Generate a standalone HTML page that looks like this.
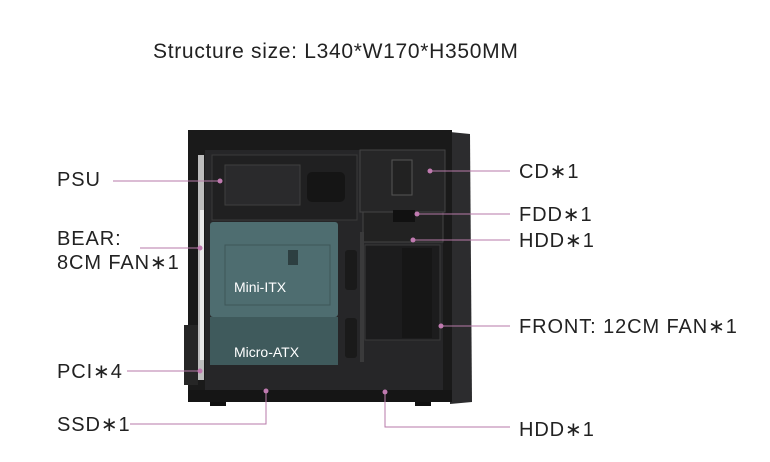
<!DOCTYPE html>
<html><head><meta charset="utf-8"><style>
html,body{margin:0;padding:0;background:#fff;}
body{width:770px;height:462px;overflow:hidden;position:relative;font-family:"Liberation Sans",sans-serif;}
.t{position:absolute;font-size:20px;letter-spacing:0.9px;color:#222;white-space:nowrap;line-height:1;}
svg{position:absolute;left:0;top:0;}
</style></head><body>
<svg width="770" height="462" viewBox="0 0 770 462">
 <rect x="210" y="398" width="16" height="8" fill="#111"/>
 <rect x="415" y="398" width="16" height="8" fill="#111"/>
 <path d="M450 132 L470 134 L472 402 L450 404 Z" fill="#2c2c2e"/>
 <rect x="188" y="130" width="264" height="272" fill="#1a1a1a"/>
 <rect x="205" y="150" width="238" height="240" fill="#262628"/>
 <rect x="198" y="155" width="6" height="225" fill="#bdbdbd"/>
 <rect x="200" y="210" width="4" height="150" fill="#eaeaea"/>
 <rect x="212" y="155" width="145" height="65" fill="#202021" stroke="#3a3a3a"/>
 <rect x="225" y="165" width="75" height="40" fill="#2a2a2c" stroke="#3f3f3f"/>
 <rect x="307" y="172" width="38" height="30" rx="5" fill="#151515"/>
 <rect x="360" y="150" width="85" height="62" fill="#262627" stroke="#444"/>
 <rect x="392" y="160" width="20" height="35" fill="#222" stroke="#555"/>
 <rect x="363" y="212" width="80" height="30" fill="#222" stroke="#444"/>
 <rect x="393" y="210" width="22" height="12" fill="#111"/>
 <rect x="365" y="245" width="75" height="95" fill="#1c1c1d" stroke="#3a3a3a"/>
 <rect x="402" y="248" width="30" height="90" fill="#161616"/>
 <rect x="345" y="250" width="12" height="40" rx="3" fill="#1a1a1a"/>
 <rect x="345" y="318" width="12" height="40" rx="3" fill="#1a1a1a"/>
 <rect x="360" y="232" width="4" height="130" fill="#3a3a3b"/>
 <rect x="210" y="222" width="128" height="95" rx="3" fill="#4e6d70"/>
 <rect x="210" y="317" width="128" height="48" fill="#3f5a5c"/>
 <rect x="225" y="245" width="105" height="60" fill="none" stroke="#3d5659"/>
 <rect x="288" y="250" width="10" height="15" fill="#2d3f41"/>
 <rect x="184" y="325" width="14" height="60" fill="#262626"/>
 <rect x="188" y="390" width="264" height="12" fill="#151515"/>
 <g stroke="#b77aa8" stroke-width="1" fill="none">
  <line x1="113" y1="181" x2="220" y2="181"/>
  <line x1="140" y1="248" x2="200" y2="248"/>
  <line x1="127" y1="371" x2="200" y2="371"/>
  <polyline points="130,424 266,424 266,391"/>
  <polyline points="510,427 385,427 385,392"/>
  <line x1="430" y1="171" x2="510" y2="171"/>
  <line x1="417" y1="214" x2="510" y2="214"/>
  <line x1="413" y1="240" x2="510" y2="240"/>
  <line x1="441" y1="326" x2="510" y2="326"/>
 </g>
 <g fill="#c07ab0">
  <circle cx="220" cy="181" r="2.5"/><circle cx="200" cy="248" r="2.5"/>
  <circle cx="200" cy="371" r="2.5"/><circle cx="266" cy="391" r="2.5"/>
  <circle cx="385" cy="392" r="2.5"/><circle cx="430" cy="171" r="2.5"/>
  <circle cx="417" cy="214" r="2.5"/><circle cx="413" cy="240" r="2.5"/>
  <circle cx="441" cy="326" r="2.5"/>
 </g>
 <text x="234" y="292" font-family="Liberation Sans,sans-serif" font-size="14" fill="#fff">Mini-ITX</text>
 <text x="234" y="357" font-family="Liberation Sans,sans-serif" font-size="14" fill="#fff">Micro-ATX</text>
</svg>
<div class="t" style="left:153px;top:41px;font-size:21px;letter-spacing:0.7px;">Structure size: L340*W170*H350MM</div>
<div class="t" style="left:57px;top:170px;">PSU</div>
<div class="t" style="left:57px;top:229px;">BEAR:</div>
<div class="t" style="left:57px;top:253px;">8CM FAN∗1</div>
<div class="t" style="left:57px;top:362px;">PCI∗4</div>
<div class="t" style="left:57px;top:415px;">SSD∗1</div>
<div class="t" style="left:519px;top:162px;">CD∗1</div>
<div class="t" style="left:519px;top:205px;">FDD∗1</div>
<div class="t" style="left:519px;top:231px;">HDD∗1</div>
<div class="t" style="left:519px;top:317px;">FRONT: 12CM FAN∗1</div>
<div class="t" style="left:519px;top:420px;">HDD∗1</div>
</body></html>
